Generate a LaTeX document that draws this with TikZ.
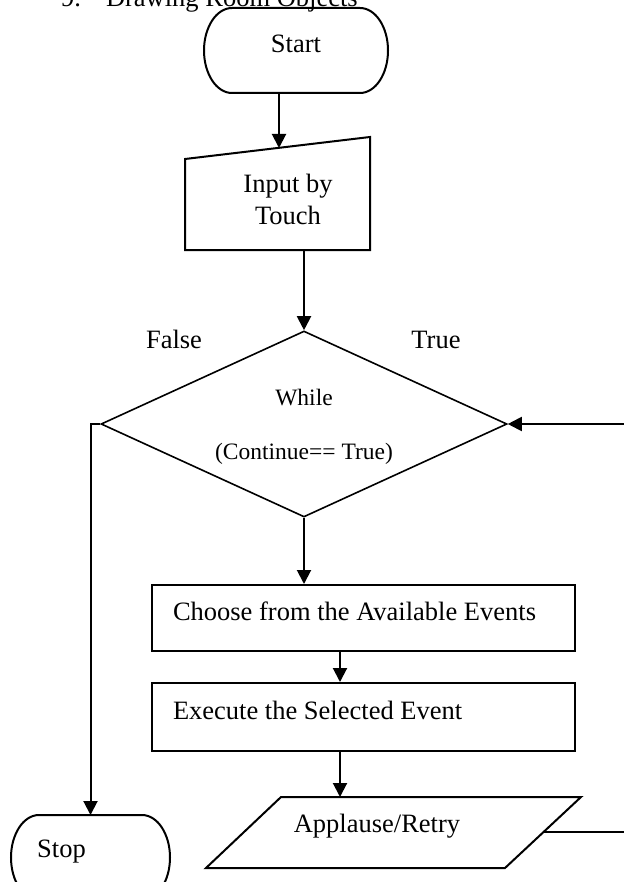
\documentclass[tikz,border=0pt]{standalone}
\usepackage{fontspec}
\setmainfont{Liberation Serif}
\usetikzlibrary{arrows.meta,shapes.geometric}
\begin{document}
\begin{tikzpicture}[x=0.5pt,y=-0.5pt,line width=1pt,
  arr/.style={-{Triangle[length=7pt,width=7pt]}},
  lbl/.style={font=\fontsize{13.25}{15}\selectfont,inner sep=0},
  small/.style={font=\fontsize{11.75}{14}\selectfont,inner sep=0},
  ghost/.style={inner sep=0,outer sep=0},
  ]
\useasboundingbox (0,0) rectangle (623,882);

% title (cut off at the top)
\node[lbl,anchor=base west] (num) at (60,7) {9.};
\node[lbl,anchor=base west] (title) at (105,7) {Drawing Room Objects};

% Start terminal
\node[ghost,minimum width=92pt,minimum height=42.5pt] (start) at (296,50.5) {};
\draw (232,8) -- (360,8)
  arc[start angle=90,end angle=0,x radius=14pt,y radius=21.25pt]
  arc[start angle=0,end angle=-90,x radius=14pt,y radius=21.25pt]
  -- (232,93)
  arc[start angle=-90,end angle=-180,x radius=14pt,y radius=21.25pt]
  arc[start angle=180,end angle=90,x radius=14pt,y radius=21.25pt]
  -- cycle;
\node[lbl,anchor=base] (starttxt) at (296,53) {Start};

% manual input
\node[ghost,minimum width=92.5pt,minimum height=56.5pt] (input) at (277.5,193.5) {};
\draw (185,159) -- (370,137) -- (370,250) -- (185,250) -- cycle;
\coordinate (inptop) at (279,148);
\node[lbl,anchor=base] (inptxta) at (288,192) {Input by};
\node[lbl,anchor=base] (inptxtb) at (288,225) {Touch};

% decision
\node[draw,diamond,line width=0.8pt,minimum width=203pt,minimum height=93pt,inner sep=0] (dec) at (304,424) {};
\node[small,anchor=base] (dectxta) at (304,405) {While};
\node[small,anchor=base] (dectxtb) at (304,459) {(Continue== True)};
\node[lbl,anchor=base] (false) at (174,348) {False};
\node[lbl,anchor=base] (true) at (436,348) {True};

% process boxes
\node[draw,minimum width=211.5pt,minimum height=33pt,inner sep=0] (choose) at (363.5,618) {};
\node[lbl,anchor=base west] (choosetxt) at (172,620) {Choose from the Available Events};
\node[draw,minimum width=211.5pt,minimum height=34pt,inner sep=0] (exec) at (363.5,717) {};
\node[lbl,anchor=base west] (exectxt) at (172,719) {Execute the Selected Event};

% output parallelogram
\node[ghost,minimum width=187.5pt,minimum height=35.5pt] (out) at (393.5,832.5) {};
\draw (281,797) -- (581,797) -- (505,868) -- (206,868) -- cycle;
\coordinate (outright) at (543.5,832);
\node[lbl,anchor=base] (outtxt) at (377,832) {Applause/Retry};

% Stop terminal
\node[ghost,minimum width=79.5pt,minimum height=42.5pt] (stop) at (90.5,857.5) {};
\draw (39,815) -- (142,815)
  arc[start angle=90,end angle=0,x radius=14pt,y radius=21.25pt]
  arc[start angle=0,end angle=-90,x radius=14pt,y radius=21.25pt]
  -- (39,900)
  arc[start angle=-90,end angle=-180,x radius=14pt,y radius=21.25pt]
  arc[start angle=180,end angle=90,x radius=14pt,y radius=21.25pt]
  -- cycle;
\node[lbl,anchor=base] (stoptxt) at (61.5,857) {Stop};

% connectors
\draw[arr] (start.south -| inptop) -- (inptop);
\draw[arr] (input.south -| dec.north) -- (dec.north);
\draw[arr] (dec.west) -| (stop.north);
\draw[arr] (dec.south) -- (dec.south |- choose.north);
\draw[arr] ([xshift=-11.75pt]choose.south) -- ([xshift=-11.75pt]exec.north);
\draw[arr] ([xshift=-11.75pt]exec.south) -- ([xshift=-11.75pt]exec.south |- out.north);
\draw[arr] (outright) -- (628,832) |- (dec.east);
\end{tikzpicture}
\end{document}
